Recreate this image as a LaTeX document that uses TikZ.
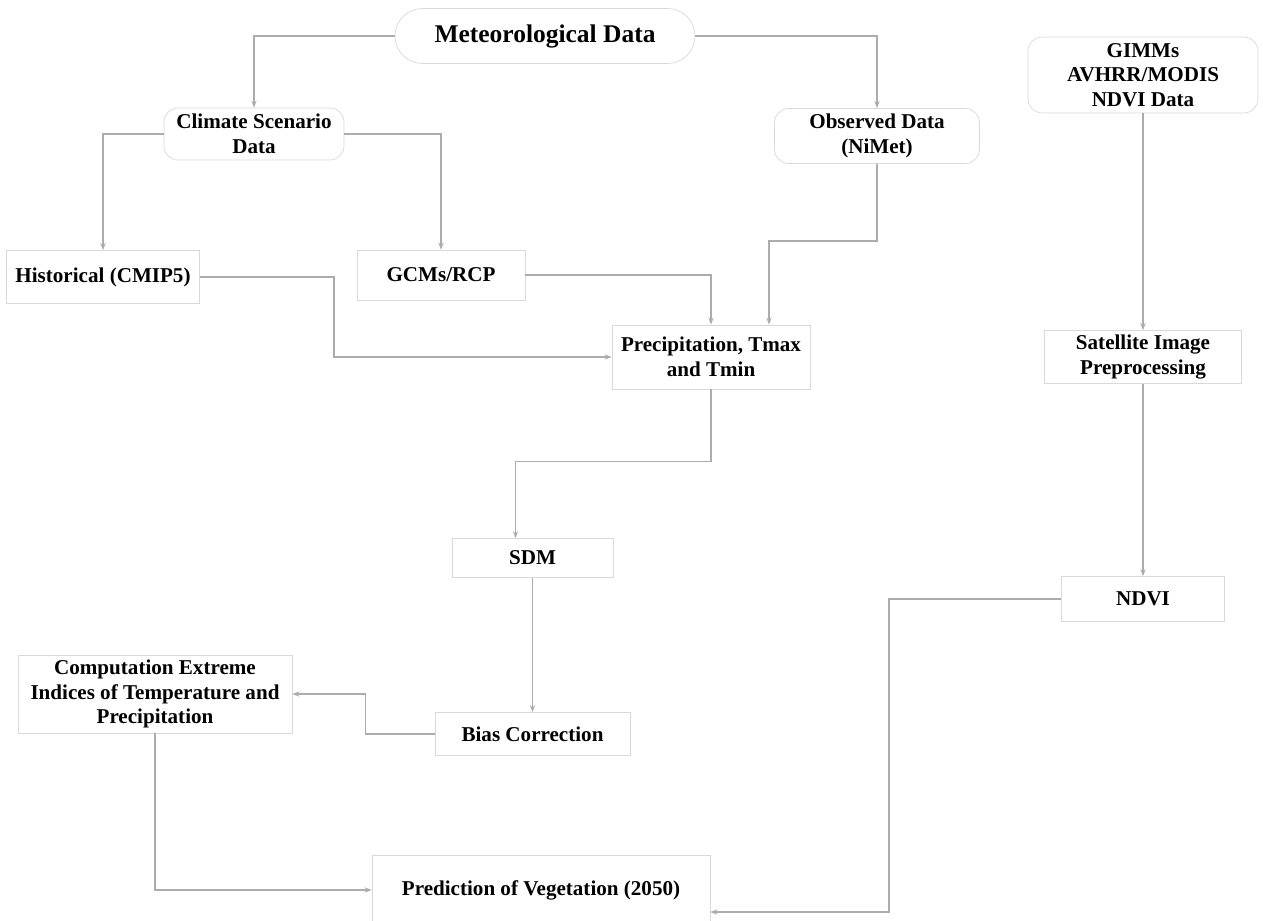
\documentclass[tikz,border=0pt]{standalone}
\usepackage{fontspec}
\setmainfont{Liberation Serif}
\usetikzlibrary{arrows.meta}

\begin{document}
\begin{tikzpicture}[procbox/.style={draw=gray!30, fill=white, align=center, inner sep=2pt, font=\bfseries\fontsize{12}{14}\selectfont}, databox/.style={procbox, rounded corners=8pt}, link/.style={draw=gray!65, line width=0.8pt, -{Stealth[length=4pt,width=3pt]}}]
        \useasboundingbox (0,0) rectangle (25.26,-18.42);
        % data sources
        \node[databox, rounded corners=0.55cm, minimum width=6cm, minimum height=1.1cm, font=\bfseries\fontsize{14.5}{17}\selectfont] (meteo) at (10.9,-0.72) {Meteorological Data};
        \node[databox, minimum width=3.6cm, minimum height=1.04cm] (climate) at (5.08,-2.68) {Climate Scenario \\ Data};
        \node[databox, minimum width=4.1cm, minimum height=1.1cm] (observed) at (17.54,-2.72) {Observed Data \\ (NiMet)};
        \node[databox, minimum width=4.6cm, minimum height=1.52cm] (gimms) at (22.86,-1.5) {GIMMs \\ AVHRR/MODIS \\ NDVI Data};
        % processing steps
        \node[procbox, minimum width=3.86cm, minimum height=1.06cm] (hist) at (2.06,-5.54) {Historical (CMIP5)};
        \node[procbox, minimum width=3.36cm, minimum height=1cm] (gcms) at (8.82,-5.5) {GCMs/RCP};
        \node[procbox, minimum width=3.96cm, minimum height=1.28cm] (precip) at (14.22,-7.14) {Precipitation, Tmax \\ and Tmin};
        \node[procbox, minimum width=3.94cm, minimum height=1.06cm] (sat) at (22.86,-7.14) {Satellite Image \\ Preprocessing};
        \node[procbox, minimum width=3.22cm, minimum height=0.78cm] (sdm) at (10.65,-11.16) {SDM};
        \node[procbox, minimum width=3.26cm, minimum height=0.9cm] (ndvi) at (22.86,-11.98) {NDVI};
        \node[procbox, minimum width=5.48cm, minimum height=1.56cm] (comp) at (3.1,-13.88) {Computation Extreme \\ Indices of Temperature and \\ Precipitation};
        \node[procbox, minimum width=3.9cm, minimum height=0.86cm] (bias) at (10.65,-14.68) {Bias Correction};
        \node[procbox, minimum width=6.76cm, minimum height=1.4cm] (pred) at (10.82,-17.8) {Prediction of Vegetation (2050)};
        % connectors
        \draw[link] (meteo.west) -| (climate.north);
        \draw[link] (meteo.east) -| (observed.north);
        \draw[link] (climate.west) -| (hist.north);
        \draw[link] (climate.east) -| (gcms.north);
        \draw[link] (hist.east) -- ++(2.68,0) |- (precip.west);
        \draw[link] (gcms.east) -| (precip.north);
        \draw[link] (observed.south) -- ++(0,-1.54) -| ([xshift=1.16cm]precip.north);
        \draw[link] (precip.south) -- ++(0,-1.44) -| ([xshift=-0.34cm]sdm.north);
        \draw[link] (sdm) -- (bias);
        \draw[link] (bias.west) -- ++(-1.38,0) |- (comp.east);
        \draw[link] (comp.south) |- (pred.west);
        \draw[link] (gimms) -- (sat);
        \draw[link] (sat) -- (ndvi);
        \draw[link] (ndvi.west) -- ++(-3.44,0) |- ([yshift=-0.44cm]pred.east);
    \end{tikzpicture}
\end{document}
